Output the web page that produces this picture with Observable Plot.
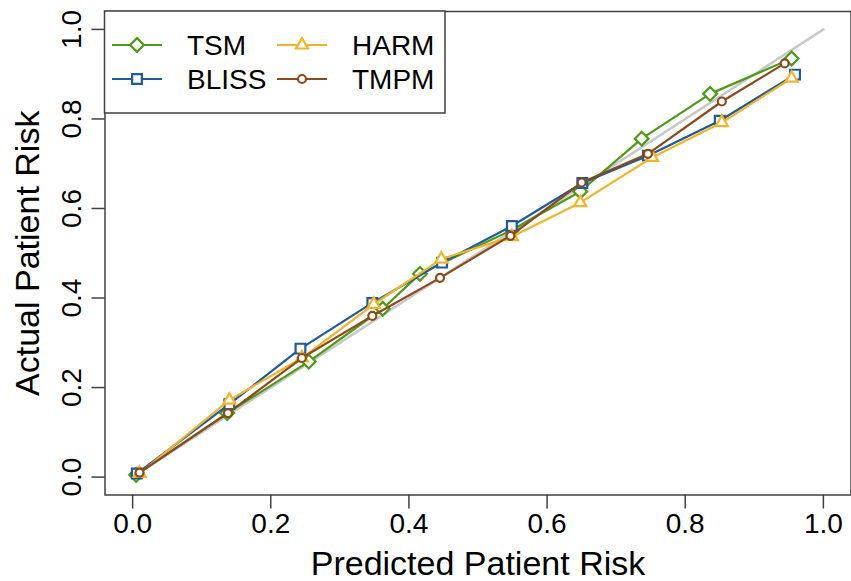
<!DOCTYPE html>
<html>
<head>
<meta charset="utf-8">
<script src="https://cdn.jsdelivr.net/npm/d3@7"></script>
<script src="https://cdn.jsdelivr.net/npm/@observablehq/plot@0.6"></script>
<style>
  html, body { margin: 0; padding: 0; background: #fff; }
  #chart { width: 851px; height: 581px; }
</style>
</head>
<body>
<div id="chart"></div>
<script>
// ---- data ----
const seriesNames = ["TSM", "BLISS", "HARM", "TMPM"];
const seriesColors = ["#4d9a17", "#1f5a9a", "#f2b52a", "#8b4a1e"];
const seriesSymbols = ["diamond2", "square2", "triangle2", "circle"];

const predTSM   = [0.005, 0.137, 0.255, 0.362, 0.416, 0.549, 0.648, 0.737, 0.836, 0.954];
const actualTSM = [0.005, 0.143, 0.258, 0.376, 0.454, 0.552, 0.638, 0.756, 0.856, 0.935];

const predBLISS   = [0.006, 0.140, 0.243, 0.347, 0.448, 0.549, 0.651, 0.746, 0.850, 0.959];
const actualBLISS = [0.008, 0.163, 0.287, 0.389, 0.479, 0.561, 0.657, 0.718, 0.796, 0.899];

const predHARM   = [0.010, 0.140, 0.245, 0.349, 0.447, 0.549, 0.648, 0.752, 0.853, 0.954];
const actualHARM = [0.008, 0.172, 0.266, 0.386, 0.487, 0.537, 0.613, 0.714, 0.792, 0.891];

const predTMPM   = [0.010, 0.138, 0.245, 0.347, 0.445, 0.547, 0.650, 0.746, 0.853, 0.944];
const actualTMPM = [0.010, 0.143, 0.266, 0.360, 0.445, 0.539, 0.658, 0.722, 0.839, 0.924];

const diagonal = [0, 1];
const xTicks = [0, 0.2, 0.4, 0.6, 0.8, 1.0];
const yTicks = [0, 0.2, 0.4, 0.6, 0.8, 1.0];
const xTitle = "Predicted Patient Risk";
const yTitle = "Actual Patient Risk";

// ---- build table ----
const preds = [predTSM, predBLISS, predHARM, predTMPM];
const actuals = [actualTSM, actualBLISS, actualHARM, actualTMPM];
const symbolR = [6.2, 6.2, 5.8, 4];

const seriesRows = seriesNames.map((name, i) =>
  preds[i].map((p, j) => ({series: name, pred: p, actual: actuals[i][j]}))
);

const axisColor = "#404040";
const fmt = d3.format(".1f");

const marks = [
  Plot.line(diagonal, {x: d => d, y: d => d, stroke: "#c8c8c8", strokeWidth: 2.5}),
];
seriesRows.forEach((rows, i) => {
  marks.push(Plot.line(rows, {x: "pred", y: "actual", stroke: seriesColors[i], strokeWidth: 2.2}));
  marks.push(Plot.dot(rows, {x: "pred", y: "actual", symbol: () => seriesSymbols[i], r: symbolR[i],
    stroke: seriesColors[i], fill: "white", strokeWidth: 2.2}));
});
marks.push(
  Plot.frame({stroke: axisColor, strokeWidth: 1.5}),
  Plot.axisX({ticks: xTicks, tickFormat: fmt, tickSize: 14, tickPadding: 4, fontSize: 28,
    label: null, stroke: axisColor, strokeWidth: 1.5, fill: "#000"}),
  Plot.axisY({ticks: yTicks, tickFormat: () => "", tickSize: 13, label: null,
    stroke: axisColor, strokeWidth: 1.5}),
  Plot.text(yTicks, {y: d => d, text: d => fmt(d), frameAnchor: "left", rotate: -90, dx: -33,
    fontSize: 28, textAnchor: "middle", lineAnchor: "middle", fill: "#000"}),
  Plot.text([xTitle], {text: d => d, frameAnchor: "bottom", dy: 69.5, fontSize: 34,
    textAnchor: "middle", lineAnchor: "middle", fill: "#000"}),
  Plot.text([yTitle], {text: d => d, frameAnchor: "left", rotate: -90, dx: -76.5, fontSize: 34,
    textAnchor: "middle", lineAnchor: "middle", fill: "#000"})
);

const chart = Plot.plot({
  width: 851,
  height: 581,
  marginLeft: 104.5,
  marginRight: 0.5,
  marginTop: 11,
  marginBottom: 86.5,
  x: {domain: [-0.04, 1.04]},
  y: {domain: [-0.04, 1.04]},
  symbol: {domain: seriesSymbols, range: seriesSymbols},
  style: {fontFamily: "'Liberation Sans', Arial, sans-serif", fontSize: "28px", color: "#000", background: "#fff"},
  marks
});

// ---- legend (drawn inside the SVG, top-left of the frame) ----
const svg = d3.select(chart);
const symMap = {diamond2: d3.symbolDiamond2, square2: d3.symbolSquare2, triangle2: d3.symbolTriangle2, circle: d3.symbolCircle};
const lg = svg.append("g").attr("class", "legend").attr("text-anchor", "start");
lg.append("rect").attr("x", 104.5).attr("y", 11).attr("width", 340.5).attr("height", 102)
  .attr("fill", "#fff").attr("stroke", axisColor).attr("stroke-width", 1.5);
const colX = [112, 277];
const rowY = [45, 79];
seriesNames.forEach((name, i) => {
  const c = Math.floor(i / 2), r = i % 2;
  const x0 = colX[c], y0 = rowY[r];
  lg.append("line").attr("x1", x0).attr("x2", x0 + 50).attr("y1", y0).attr("y2", y0)
    .attr("stroke", seriesColors[i]).attr("stroke-width", 2.2);
  lg.append("path")
    .attr("d", d3.symbol(symMap[seriesSymbols[i]], Math.PI * symbolR[i] * symbolR[i])())
    .attr("transform", `translate(${x0 + 25},${y0})`)
    .attr("fill", "#fff").attr("stroke", seriesColors[i]).attr("stroke-width", 2.2);
  lg.append("text").attr("x", x0 + 75).attr("y", y0).attr("dy", "0.35em")
    .attr("text-anchor", "start")
    .attr("font-size", 28).attr("fill", "#000").text(name);
});

document.getElementById("chart").appendChild(chart);
</script>
</body>
</html>
